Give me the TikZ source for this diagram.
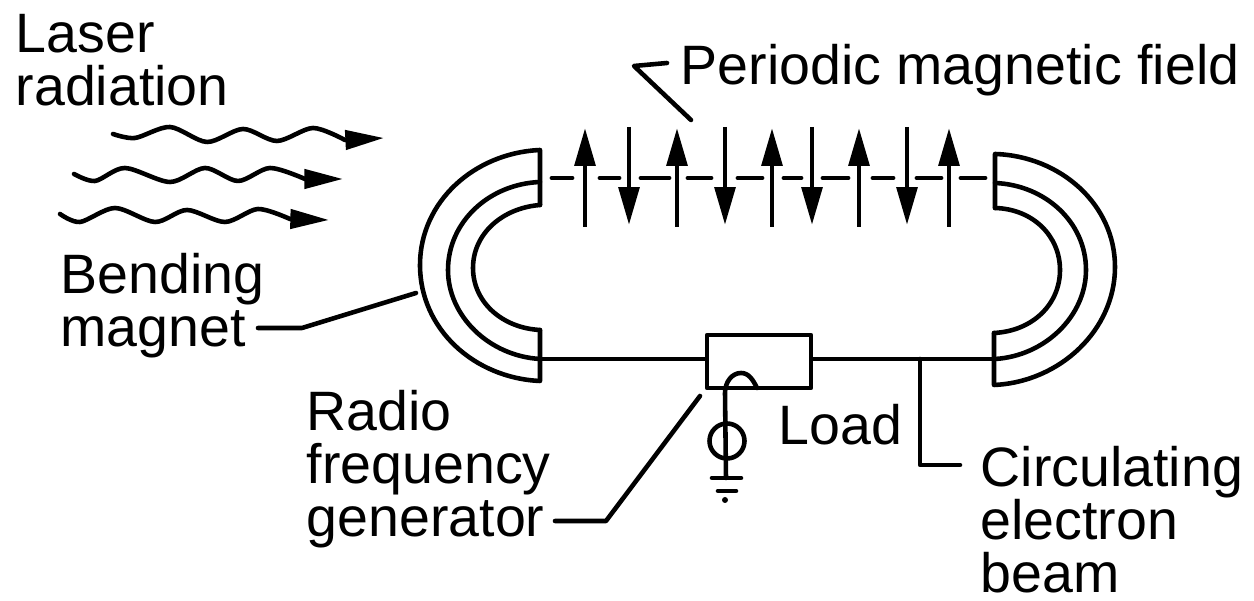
\documentclass[tikz,border=0pt]{standalone}
\usepackage{fontspec}
\setmainfont{Liberation Sans}
\usetikzlibrary{arrows.meta}
\tikzset{
  wire/.style={line width=1.3pt, line cap=round, line join=round},
  label/.style={inner sep=0pt, anchor=base west, align=left},
  wavearrow/.style={wire, -{Stealth[length=11pt, width=5.4pt, inset=0pt]}},
  fieldarrow/.style={line width=1.4pt, -{Stealth[length=10.8pt, width=5.8pt, inset=0pt]}},
  gap/.style={line width=1.4pt, line cap=round}
}
\begin{document}
\begin{tikzpicture}[x=0.1mm, y=-0.1mm, font=\fontsize{15.8}{15.2}\selectfont]
  \useasboundingbox (0,0) rectangle (1254,601);
  % labels
  \node[label] (laser) at (15,106) {Laser\\radiation};
  \node[label] (field) at (680,85) {Periodic magnetic field};
  \node[label] (bending) at (60,347) {Bending\\magnet};
  \node[label] (radio) at (306,537) {Radio\\frequency\\generator};
  \node[label] (load) at (778,445) {Load};
  \node[label] (circulating) at (980,593) {Circulating\\electron\\beam};
  % laser waves
  \draw[wavearrow] plot[smooth] coordinates {(113,134) (135,138) (170,127) (207,142) (243,129) (277,141) (313,128) (345,140)} -- (384,138);
  \draw[wavearrow] plot[smooth] coordinates {(74,174) (95,181) (125,168) (170,182) (205,168) (238,181) (270,168) (305,179)} -- (343,179);
  \draw[wavearrow] plot[smooth] coordinates {(60,214) (80,222) (115,208) (155,222) (187,210) (225,222) (258,209) (290,219)} -- (329,220);
  % left magnet
  \draw[wire] (540,205) -- (540,150) .. controls (474,153) and (420,202) .. (420,265) .. controls (420,329) and (474,378) .. (540,381) -- (540,330);
  \draw[wire] (540,182) .. controls (489,184) and (448,222) .. (448,270) .. controls (448,316) and (489,356) .. (540,359);
  \draw[wire] (540,205) .. controls (502,208) and (473,234) .. (473,268) .. controls (473,302) and (502,328) .. (540,330);
  % right magnet
  \draw[wire] (995,208) -- (995,154) .. controls (1060,156) and (1115,204) .. (1115,267) .. controls (1115,330) and (1060,382) .. (994,385) -- (994,333);
  \draw[wire] (995,183) .. controls (1045,185) and (1086,222) .. (1086,270) .. controls (1086,316) and (1045,356) .. (995,359);
  \draw[wire] (995,208) .. controls (1033,209) and (1060,236) .. (1060,270) .. controls (1060,304) and (1033,331) .. (994,333);
  % field arrows and dashes
  \foreach \x in {585,677,772,859,949}
    \draw[fieldarrow] (\x,227) -- (\x,128);
  \foreach \x in {629,725,812,907}
    \draw[fieldarrow] (\x,127) -- (\x,225);
  \foreach \a/\b in {552/572,600/619,641/669,688/711,738/762,784/801,823/848,873/893,917/941,961/985}
    \draw[gap] (\a,178) -- (\b,178);
  % beam and generator
  \node[draw, wire, minimum width=10.4mm, minimum height=5.3mm, inner sep=0pt] (rfbox) at (759,361.5) {};
  \coordinate (beamleft) at (540,359);
  \coordinate (beamright) at (995,359);
  \coordinate (beamtap) at (920,359);
  \coordinate (beamlabel) at (960,465);
  \draw[wire] (beamleft) -- (rfbox.west |- beamleft);
  \draw[wire] (rfbox.east |- beamright) -- (beamright);
  \draw[wire] (beamtap) |- (beamlabel);
  \node[draw, wire, circle, minimum size=3.5mm, inner sep=0pt] (source) at (727,441) {};
  \coordinate (hooktop) at (741,373);
  \coordinate (hookend) at (757,388);
  \coordinate (earthtop) at (726,478);
  \draw[wire] (earthtop) -- (725,393) .. controls (725,382) and (732,373) .. (hooktop) .. controls (749,373) and (753,380) .. (hookend);
  % earth
  \coordinate (earthleft) at (712,478);
  \coordinate (earthright) at (741,478);
  \coordinate (earthlow) at (718,491);
  \coordinate (earthlowend) at (736,491);
  \draw[wire] (earthleft) -- (earthright);
  \draw[wire] (earthlow) -- (earthlowend);
  \fill (725,500) circle[radius=3];
  % leaders
  \coordinate (fieldstart) at (667,63);
  \coordinate (fieldknee) at (634,66);
  \coordinate (fieldend) at (691,120);
  \draw[wire] (fieldstart) -- (fieldknee) -- (fieldend);
  \coordinate (magstart) at (258,328);
  \coordinate (magknee) at (302,328);
  \coordinate (magend) at (416,293);
  \draw[wire] (magstart) -- (magknee) -- (magend);
  \coordinate (rfstart) at (555,521);
  \coordinate (rfknee) at (606,521);
  \coordinate (rfend) at (700,396);
  \draw[wire] (rfstart) -- (rfknee) -- (rfend);
\end{tikzpicture}
\end{document}
